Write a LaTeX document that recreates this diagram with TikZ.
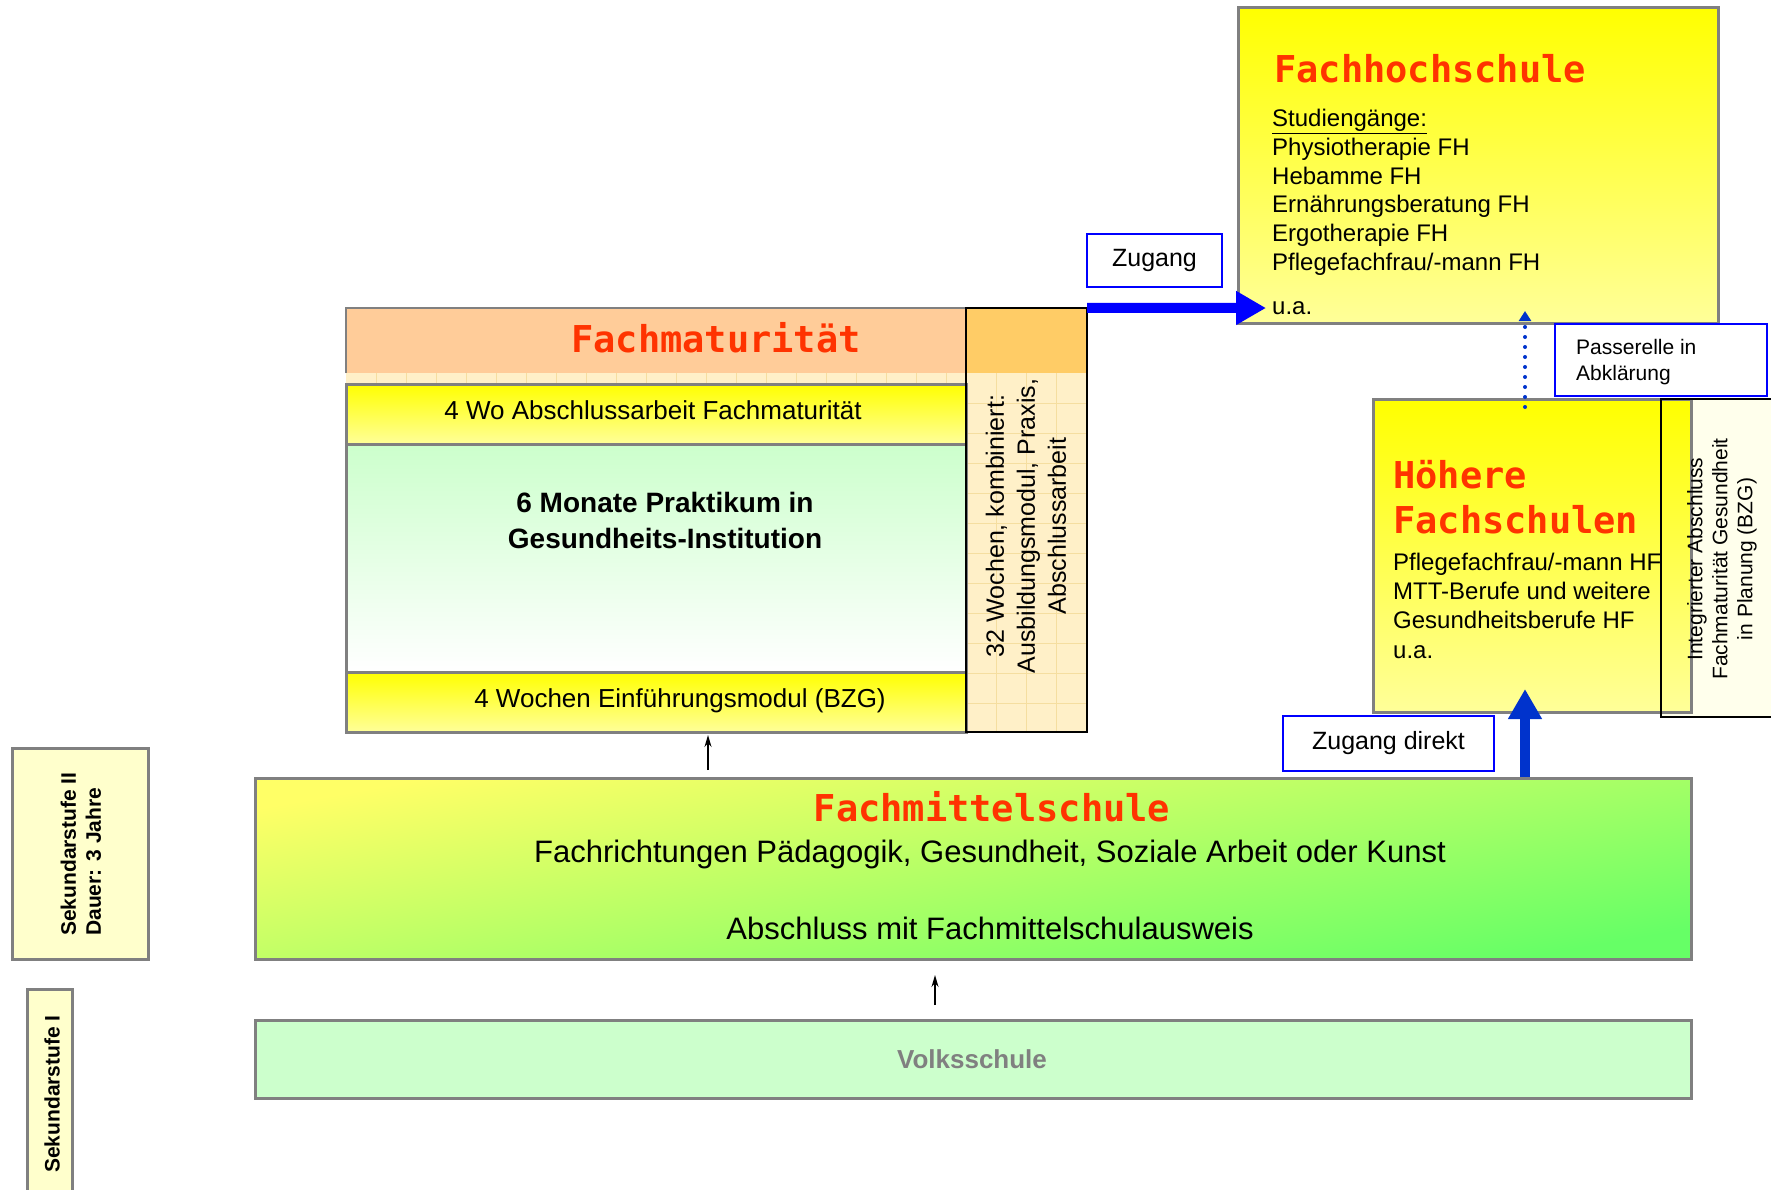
\documentclass[tikz,border=0pt]{standalone}
\usepackage{fontspec}
\setmainfont{Liberation Sans}
\newfontfamily\monofont{DejaVu Sans Mono}
\usetikzlibrary{arrows.meta}

\definecolor{titlered}{RGB}{255,51,0}
\definecolor{boxgray}{RGB}{128,128,128}
\definecolor{peach}{RGB}{255,204,153}
\definecolor{peachdark}{RGB}{255,204,102}
\definecolor{cream}{RGB}{255,240,200}
\definecolor{gridline}{RGB}{245,222,160}
\definecolor{paleyellow}{RGB}{255,255,153}
\definecolor{lightyellow}{RGB}{255,255,204}
\definecolor{ivory}{RGB}{255,255,236}
\definecolor{palegreen}{RGB}{204,255,204}
\definecolor{fmsyellow}{RGB}{255,255,102}
\definecolor{fmsmid}{RGB}{224,255,102}
\definecolor{fmsgreen}{RGB}{102,255,102}
\definecolor{arrowblue}{RGB}{0,51,204}

\newcommand{\fs}[2]{\fontsize{#1}{#2}\selectfont}

\begin{document}
\begin{tikzpicture}[x = 1pt, y = -1pt,
  box/.style = {draw = boxgray, line width = 3pt, inner sep = 0pt},
  band/.style = {box, top color = yellow, bottom color = paleyellow},
  label/.style = {draw = blue, line width = 2pt, fill = white, inner sep = 0pt},
  plain/.style = {inner sep = 0pt},
  txt/.style = {inner sep = 0pt, font = \fs{24}{28.7}},
  title/.style = {inner sep = 0pt, text = titlered, font = {\monofont\bfseries\fs{37}{45}}},
  bigarrow/.style = {line width = 10pt, -{Triangle[length = 30pt, width = 32pt]}},
  smallarrow/.style = {line width = 1.5pt, -{Stealth[length = 12pt, width = 7pt]}}]

\useasboundingbox (0,0) rectangle (1771,1189);

% Fachhochschule (base of a multi-line node = last line)
\node [band, minimum width = 480pt, minimum height = 316pt] (fh) at (1478,165) {};
\node [title, anchor = base west] (fhtitle) at (1274,82) {Fachhochschule};
\node [txt, anchor = base west, align = left] (fhlist) at (1272,314) {\underline{Studiengänge:}\\ Physiotherapie FH\\ Hebamme FH\\ Ernährungsberatung FH\\ Ergotherapie FH\\ Pflegefachfrau/-mann FH\\[15pt] u.a.};

\node [label, minimum width = 135pt, minimum height = 53pt, font = \fs{25}{30}] (zug) at (1154.5,260.5) {Zugang};
\node [label, minimum width = 212pt, minimum height = 72pt] (pass) at (1661,360) {};
\node [txt, anchor = base west, align = left, font = \fs{21}{26}] (passtext) at (1576,380) {Passerelle in\\Abklärung};

% Hoehere Fachschulen
\node [plain, fill = ivory, minimum width = 129pt, minimum height = 318pt] (integ) at (1725.5,558) {};
\node [band, minimum width = 318pt, minimum height = 313pt] (hf) at (1532,555.5) {};
\draw [line width = 2pt] (integ.north west) rectangle (integ.south east);
\node [txt, rotate = 90, align = center, font = \fs{21}{25}] (integtext) at (1722,559) {Integrierter Abschluss\\Fachmaturität Gesundheit\\in Planung (BZG)};
\node [title, anchor = base west, align = left] (hftitle) at (1393,533) {Höhere\\Fachschulen};
\node [txt, anchor = base west, align = left, font = \fs{24}{29.3}] (hflist) at (1393,658) {Pflegefachfrau/-mann HF\\MTT-Berufe und weitere\\Gesundheitsberufe HF\\u.a.};

\node [label, minimum width = 211pt, minimum height = 55pt, font = \fs{25}{30}] (zudir) at (1388.5,743.5) {Zugang direkt};

% Fachmaturitaet
\node [plain, fill = peach, minimum width = 620pt, minimum height = 65pt] (fmhead) at (656,340.5) {};
\node [plain, fill = cream, minimum width = 620pt, minimum height = 11pt] (fmstrip) at (656,378.5) {};
\node [plain, fill = peachdark, minimum width = 121pt, minimum height = 65pt] (colhead) at (1026.5,340.5) {};
\node [plain, fill = cream, minimum width = 121pt, minimum height = 359pt] (collow) at (1026.5,552.5) {};
\foreach \x in {376,406,...,966}
  \draw [gridline, line width = 1pt] (\x,373) -- (\x,384);
\foreach \x in {996,1026,1056}
  \draw [gridline, line width = 1pt] (\x,373) -- (\x,732);
\foreach \y in {403,433,...,732}
  \draw [gridline, line width = 1pt] (966,\y) -- (1087,\y);
\draw [line width = 2pt, boxgray] (fmhead.south west) |- (fmhead.north east);
\node [band, minimum width = 620pt, minimum height = 60pt] (fmab) at (656,414) {};
\node [box, top color = palegreen, bottom color = white, minimum width = 620pt, minimum height = 228pt] (prak) at (656,558) {};
\node [band, minimum width = 620pt, minimum height = 60pt] (einf) at (656,702) {};
\draw [line width = 2pt] (colhead.north west) rectangle (collow.south east);

\node [title, anchor = base] (fmtitle) at (716,352) {Fachmaturität};
\node [txt, anchor = base, font = \fs{26}{31}] (fmabtext) at (653,419) {4 Wo Abschlussarbeit Fachmaturität};
\node [txt, anchor = base, align = center, font = \bfseries\fs{28}{36}] (praktext) at (665,548) {6 Monate Praktikum in\\Gesundheits-Institution};
\node [txt, anchor = base, font = \fs{26}{31}] (einftext) at (680,707) {4 Wochen Einführungsmodul (BZG)};
\node [txt, rotate = 90, align = center, font = \fs{25}{31}] (coltext) at (1026,526) {32 Wochen, kombiniert:\\Ausbildungsmodul, Praxis,\\Abschlussarbeit};

% Fachmittelschule, Volksschule
\node [box, top color = fmsyellow, middle color = fmsmid, bottom color = fmsgreen, shading angle = 10, minimum width = 1436pt, minimum height = 181pt] (fms) at (973,868.5) {};
\node [title, anchor = base] (fmstitle) at (992,821) {Fachmittelschule};
\node [txt, anchor = base, font = \fs{31}{37}] (fmsline1) at (990,862) {Fachrichtungen Pädagogik, Gesundheit, Soziale Arbeit oder Kunst};
\node [txt, anchor = base, font = \fs{31}{37}] (fmsline2) at (990,939) {Abschluss mit Fachmittelschulausweis};

\node [box, fill = palegreen, minimum width = 1436pt, minimum height = 78pt] (vs) at (973,1059) {};
\node [txt, anchor = base, text = boxgray, font = \bfseries\fs{26}{31}] (vstext) at (972,1068) {Volksschule};

% Stufen
\node [box, fill = lightyellow, minimum width = 136pt, minimum height = 211pt] (sek2) at (80,853.5) {};
\node [txt, rotate = 90, align = left, font = \bfseries\fs{21}{25}] (sek2text) at (81,854) {Sekundarstufe II\\Dauer: 3 Jahre};
\node [box, fill = lightyellow, minimum width = 45pt, minimum height = 215pt] (sek1) at (49.5,1097) {};
\node [txt, rotate = 90, font = \bfseries\fs{21}{25}] (sek1text) at (52,1094) {Sekundarstufe I};

% Pfeile
\coordinate (zugtip) at (1266,308);
\coordinate (hftip) at (1525,689);
\coordinate (hfdot) at (1525,407);
\coordinate (fhtip) at (1525,311);
\coordinate (fmsup) at (708,770);
\coordinate (einftip) at (708,735);
\coordinate (vsup) at (935,1005);
\coordinate (fmstip) at (935,975);
\draw [bigarrow, blue] (colhead.north east) -- (zugtip);
\draw [bigarrow, arrowblue] (fms.north -| hftip) -- (hftip);
\draw [arrowblue, line width = 4pt, line cap = round, dash pattern = on 0pt off 10pt, -{Triangle[length = 10pt, width = 12pt]}] (hfdot) -- (fhtip);
\draw [smallarrow] (fmsup) -- (einftip);
\draw [smallarrow] (vsup) -- (fmstip);
\end{tikzpicture}
\end{document}
